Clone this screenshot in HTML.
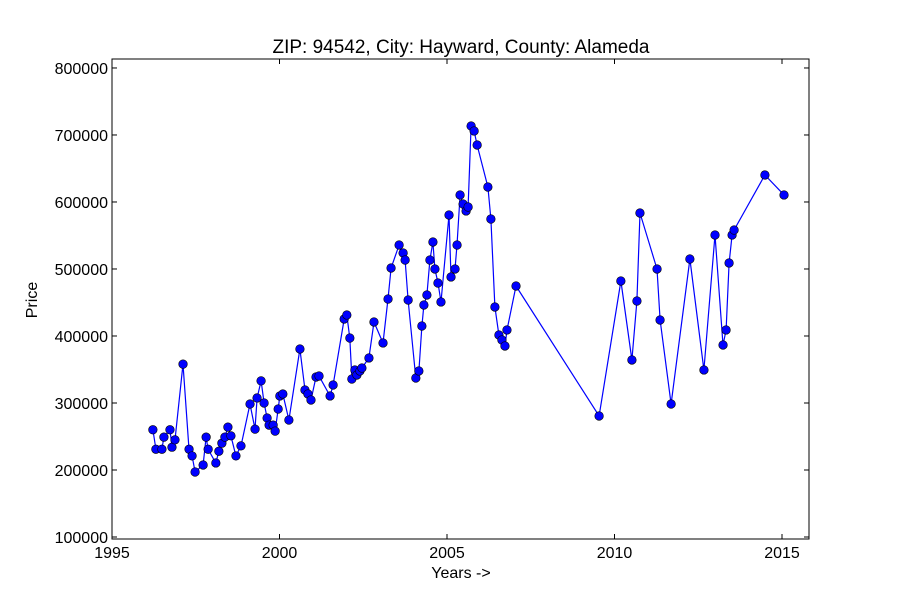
<!DOCTYPE html>
<html><head><meta charset="utf-8"><style>
body{margin:0;background:#fff;}
svg{display:block;font-family:"Liberation Sans","DejaVu Sans",sans-serif;}
</style></head><body>
<svg id="chart" width="900" height="600" viewBox="0 0 900 600" xmlns="http://www.w3.org/2000/svg">
<rect width="900" height="600" fill="#fff"/>
<text x="461" y="53" font-size="19" text-anchor="middle">ZIP: 94542, City: Hayward, County: Alameda</text>
<text x="461" y="578" font-size="16" text-anchor="middle">Years -&gt;</text>
<text x="37" y="300" font-size="16" text-anchor="middle" transform="rotate(-90 37 300)">Price</text>
<g id="ticks"></g>
<g id="series"></g>
<rect x="112" y="59" width="697" height="480" fill="none" stroke="#000" stroke-width="1"/>
</svg>
<script>
const years=[1996.22,1996.31,1996.49,1996.55,1996.73,1996.79,1996.88,1997.12,1997.30,1997.39,1997.48,1997.72,1997.81,1997.87,1998.10,1998.19,1998.28,1998.37,1998.46,1998.55,1998.70,1998.85,1999.12,1999.27,1999.33,1999.45,1999.54,1999.63,1999.69,1999.81,1999.87,1999.96,2000.01,2000.10,2000.28,2000.61,2000.76,2000.85,2000.94,2001.09,2001.18,2001.51,2001.60,2001.93,2002.01,2002.10,2002.16,2002.25,2002.31,2002.40,2002.46,2002.67,2002.82,2003.09,2003.24,2003.33,2003.57,2003.69,2003.75,2003.84,2004.07,2004.16,2004.25,2004.31,2004.40,2004.49,2004.58,2004.64,2004.73,2004.82,2005.06,2005.12,2005.24,2005.30,2005.39,2005.48,2005.57,2005.63,2005.72,2005.81,2005.90,2006.22,2006.31,2006.43,2006.55,2006.64,2006.73,2006.79,2007.06,2009.54,2010.19,2010.52,2010.67,2010.76,2011.27,2011.36,2011.69,2012.25,2012.67,2013.00,2013.24,2013.33,2013.42,2013.51,2013.57,2014.49,2015.06];
const prices=[260000,231000,231000,249000,260000,234000,245000,358000,231000,221000,197000,207500,249000,231000,210500,228000,240000,249000,264000,251000,221000,236000,298500,261000,307500,333000,300000,277600,267000,267000,258000,291000,310500,313500,274600,380600,319400,313500,304500,338800,340300,310500,326900,425400,431400,397000,335800,349300,341800,347800,352200,367200,420900,389600,455200,501500,535800,523900,513400,453700,337300,347800,414900,446300,461200,513400,540300,500000,479100,450800,580600,488100,500000,535800,610500,597000,586600,592500,713400,706000,685100,622400,574600,443300,401500,394000,385100,409000,474600,280600,482100,364200,452200,583600,500000,423900,298500,514900,349300,550800,386600,409000,509000,550800,558200,640300,610500];
const xTicks=[1995,2000,2005,2010,2015];
const yTicks=[100000,200000,300000,400000,500000,600000,700000,800000];
const X0=112,X1=809,Y0=539,Y1=59,xMin=1995,xMax=2015.806,yMin=97000,yMax=813400;
const sx=v=>X0+(v-xMin)/(xMax-xMin)*(X1-X0);
const sy=v=>Y0-(v-yMin)/(yMax-yMin)*(Y0-Y1);
const NS="http://www.w3.org/2000/svg";
const tg=document.getElementById('ticks'),sg=document.getElementById('series');
function mk(tag,attrs,parent){const e=document.createElementNS(NS,tag);for(const k in attrs)e.setAttribute(k,attrs[k]);parent.appendChild(e);return e;}
xTicks.forEach(t=>{const x=sx(t);
 const l1=mk('line',{x1:x,x2:x,y1:Y0,y2:Y0-5,stroke:'#000'},tg);
 
 
 mk('line',{x1:x,x2:x,y1:Y1,y2:Y1+5,stroke:'#000'},tg);
 const tx=mk('text',{x:x,y:Y0+19,'font-size':16,'text-anchor':'middle'},tg);tx.textContent=t;
 
 
});
yTicks.forEach(t=>{const y=sy(t);
 const l1=mk('line',{x1:X0,x2:X0+5,y1:y,y2:y,stroke:'#000'},tg);
 
 
 mk('line',{x1:X1,x2:X1-5,y1:y,y2:y,stroke:'#000'},tg);
 const tx=mk('text',{x:X0-4,y:y+6,'font-size':16,'text-anchor':'end'},tg);tx.textContent=t;
 
 
});
const pts=years.map((y,i)=>sx(y).toFixed(1)+','+sy(prices[i]).toFixed(1)).join(' ');
const pl=mk('polyline',{points:pts,fill:'none',stroke:'#0000ff','stroke-width':1.2},sg);


years.forEach((y,i)=>{const c=mk('circle',{cx:sx(y),cy:sy(prices[i]),r:4.3,fill:'#0000ff',stroke:'#000','stroke-width':0.6},sg);
 
 
});
</script>
</body></html>
